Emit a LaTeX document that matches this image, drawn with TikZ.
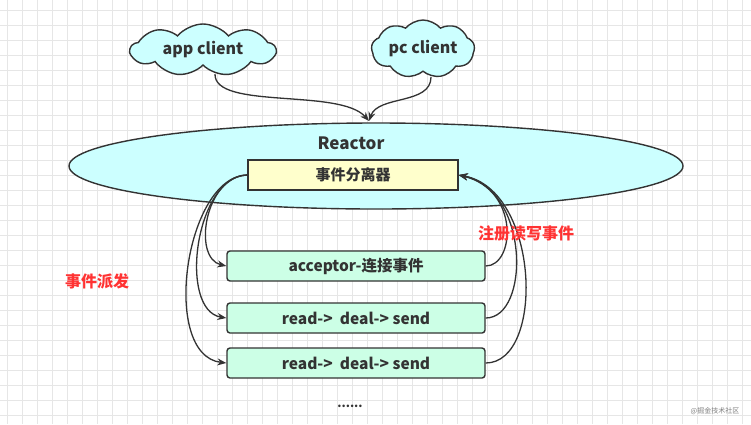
\documentclass[tikz,border=0pt]{standalone}
\usepackage{fontspec}
\setmainfont{Noto Sans CJK SC}
\usetikzlibrary{shapes.geometric,shapes.symbols,arrows.meta}
\definecolor{gridc}{HTML}{E6E6E6}
\definecolor{cyanf}{HTML}{CCFFFF}
\definecolor{yelf}{HTML}{FFFFCC}
\definecolor{grnf}{HTML}{CCFFE6}
\definecolor{linec}{HTML}{333333}
\definecolor{redt}{HTML}{FF3333}
\tikzset{
  cloudnode/.style={cloud, cloud puffs=9, cloud puff arc=100, cloud ignores aspect, draw=linec, line width=1.4pt, fill=cyanf, font=\bfseries\fontsize{16}{18}\selectfont, text=linec, inner sep=0pt},
  boxnode/.style={draw=linec, line width=1.4pt, minimum width=258pt, minimum height=30pt, fill=grnf, rounded corners=3pt, font=\bfseries\fontsize{15.5}{18}\selectfont, text=linec},
  conn/.style={draw=linec, line width=1.3pt, -{Stealth[length=9pt,width=7pt]}},
  redlabel/.style={text=redt, font=\bfseries\fontsize{16}{18}\selectfont}
}
\begin{document}
\begin{tikzpicture}[x=1pt,y=-1pt]
\useasboundingbox (0,0) rectangle (751,424);
\fill[white] (0,0) rectangle (751,424);
\foreach \gx in {7,22,...,751} \draw[gridc, line width=0.8pt] (\gx,0) -- (\gx,424);
\foreach \gy in {10,25,...,424} \draw[gridc, line width=0.8pt] (0,\gy) -- (751,\gy);

\node[cloudnode, minimum width=145pt, minimum height=52pt] (app) at (203,50) {app client};
\node[cloudnode, minimum width=103pt, minimum height=58pt] (pc) at (423,49) {pc client};

\node[ellipse, draw=linec, line width=1.4pt, fill=cyanf, minimum width=614pt, minimum height=86pt] (reactor) at (376,166) {};
\node[font=\bfseries\fontsize{17}{20}\selectfont, text=linec] (rlabel) at (351,143) {Reactor};

\node[draw=linec, line width=1.4pt, fill=yelf, minimum width=210pt, minimum height=30pt, font=\bfseries\fontsize{15}{18}\selectfont, text=linec] (demux) at (353,175) {事件分离器};

\node[boxnode] (b1) at (356,266) {acceptor-连接事件};
\node[boxnode] (b2) at (356,318) {read->\ \ deal-> send};
\node[boxnode] (b3) at (356,363) {read->\ \ deal-> send};

\coordinate (tip) at (369,121);
\coordinate (a0) at (215,74);
\coordinate (p0) at (431,77);
\draw[conn] (a0) .. controls (214,110) and (340,88) .. (tip);
\draw[conn] (p0) .. controls (431,105) and (378,95) .. (tip);

\draw[conn] (demux.west) .. controls (205,176) and (192,258) .. (b1.west);
\draw[conn] (demux.west) .. controls (195,176) and (178,310) .. (b2.west);
\draw[conn] (demux.west) .. controls (185,176) and (160,355) .. (b3.west);

\draw[conn] (b1.east) .. controls (515,266) and (520,190) .. (demux.east);
\draw[conn] (b2.east) .. controls (530,318) and (530,190) .. (demux.east);
\draw[conn] (b3.east) .. controls (545,363) and (540,190) .. (demux.east);

\node[redlabel] (reg) at (526,233) {注册读写事件};
\node[redlabel] (disp) at (97,281) {事件派发};
\node[font=\bfseries\fontsize{12}{14}\selectfont, text=linec] (dots) at (350,406) {......};
\node[font=\fontsize{7}{8}\selectfont, text=gray] (wm) at (715,411) {@掘金技术社区};
\end{tikzpicture}
\end{document}
